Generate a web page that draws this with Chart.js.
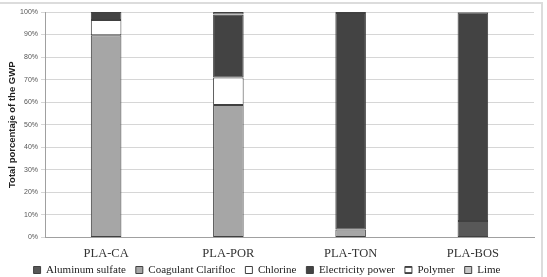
<!DOCTYPE html>
<html>
<head>
<meta charset="utf-8">
<script src="https://cdn.jsdelivr.net/npm/chart.js@4.4.1/dist/chart.umd.min.js"></script>
<style>
  body { margin: 0; background: #fff; }
  #wrap { position: relative; width: 547px; height: 277px; overflow: hidden; }
  #frame { position: absolute; left: -4px; top: 2px; width: 545px; height: 300px;
           border-top: 2px solid #dcdcdc; border-right: 2px solid #dcdcdc; pointer-events: none; }
</style>
</head>
<body>
<div id="wrap">
  <canvas id="myChart" width="547" height="277"></canvas>
  <div id="frame"></div>
</div>
<script>
// plants
var plants = ["PLA-CA", "PLA-POR", "PLA-TON", "PLA-BOS"];

// share of GWP per source (%)
var aluminumSulfate = [0, 0, 0, 7.3];
var coagulantClarifloc = [89.7, 58.8, 3.6, 0];
var chlorine = [6.8, 12.2, 0, 0];
var electricityPower = [3.5, 27.8, 96.0, 92.5];
var polymer = [0, 0.2, 0.4, 0.2];
var lime = [0, 1.0, 0, 0];

var yTicks = [0, 10, 20, 30, 40, 50, 60, 70, 80, 90, 100];

// polymer: white box with a line through it
function polymerPattern() {
    var c = document.createElement("canvas");
    c.width = 6; c.height = 6;
    var g = c.getContext("2d");
    g.fillStyle = "#ffffff";
    g.fillRect(0, 0, 6, 6);
    g.fillStyle = "#555555";
    g.fillRect(0, 2, 6, 2);
    return g.createPattern(c, "repeat");
}

// zero shares are left out so no empty border gets drawn
function noZero(arr) {
    return arr.map(function (v) { return v === 0 ? null : v; });
}

// legend kept short and drawn a bit higher, like in the original
var legendTweak = {
    id: "legendTweak",
    afterInit: function (chart) {
        var lg = chart.legend;
        var fit = lg.fit;
        var draw = lg.draw;
        lg.fit = function () {
            fit.call(this);
            this.height = 15.5;
        };
        lg.draw = function () {
            var top = this.top;
            this.top = top - 7;
            draw.call(this);
            this.top = top;
        };
    }
};

var ctx = document.getElementById("myChart").getContext("2d");

var myChart = new Chart(ctx, {
    type: "bar",
    data: {
        labels: plants,
        datasets: [
            {label: "Aluminum sulfate", data: noZero(aluminumSulfate), backgroundColor: "#585858"},
            {label: "Coagulant Clarifloc", data: noZero(coagulantClarifloc), backgroundColor: "#a6a6a6"},
            {label: "Chlorine", data: noZero(chlorine), backgroundColor: "#ffffff"},
            {label: "Electricity power", data: noZero(electricityPower), backgroundColor: "#434343"},
            {label: "Polymer", data: noZero(polymer), backgroundColor: polymerPattern()},
            {label: "Lime", data: noZero(lime), backgroundColor: "#c6c6c6"}
        ].map(function (d) {
            d.borderColor = "#404040";
            d.borderWidth = 1;
            d.borderSkipped = false;
            d.categoryPercentage = 1.0;
            d.barPercentage = 0.25;
            return d;
        })
    },
    plugins: [legendTweak],
    options: {
        responsive: false,
        animation: false,
        layout: {padding: {top: 12, right: 13, left: 0, bottom: 0}},
        plugins: {
            tooltip: {enabled: false},
            legend: {
                position: "bottom",
                labels: {
                    boxWidth: 7,
                    boxHeight: 7,
                    padding: 10,
                    color: "#222",
                    font: {family: "'Liberation Serif', serif", size: 11}
                }
            }
        },
        scales: {
            x: {
                stacked: true,
                grid: {display: false},
                border: {color: "#a0a0a0"},
                ticks: {color: "#333", padding: 1, font: {family: "'Liberation Serif', serif", size: 12.5}},
                afterFit: function (scale) { scale.height = 24; }
            },
            y: {
                stacked: true,
                min: 0,
                max: 100,
                afterBuildTicks: function (scale) {
                    scale.ticks = yTicks.map(function (v) { return {value: v}; });
                },
                grid: {color: "#d6d6d6", tickLength: 4},
                border: {color: "#a0a0a0"},
                ticks: {
                    color: "#555",
                    padding: 3,
                    font: {family: "'Liberation Sans', sans-serif", size: 7},
                    callback: function (v) { return v + "%"; }
                },
                title: {
                    display: true,
                    text: "Total porcentaje of the GWP",
                    color: "#222",
                    padding: {top: 7, bottom: 0},
                    font: {family: "'Liberation Sans', sans-serif", size: 9.5, weight: "bold"}
                },
                afterFit: function (scale) { scale.width = 45; }
            }
        }
    }
});
</script>
</body>
</html>
